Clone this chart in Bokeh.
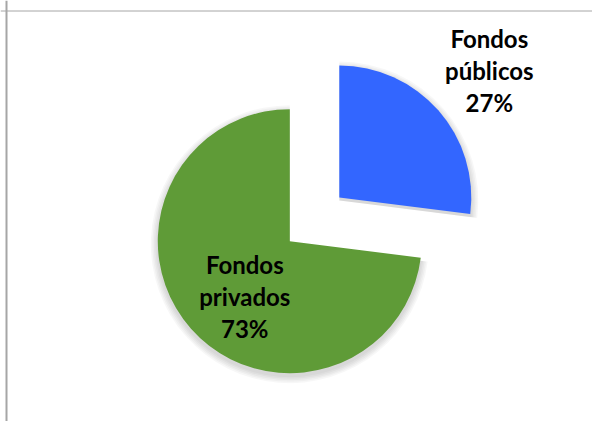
import math
from bokeh.plotting import figure
from bokeh.models import Range1d, Span, ColumnDataSource
from bokeh.core.properties import value
from bokeh.embed import file_html
from bokeh.resources import INLINE

# ---- data ----
categories = ["Fondos públicos", "Fondos privados"]
shares = [27, 73]
label_lines = ["Fondos\npúblicos\n27%", "Fondos\nprivados\n73%"]

# ---- style / layout ----
colors = ["#3366FF", "#5F9B37"]
explode = [66, 0]             # px pulled out along slice bisector
label_dx = [150, -45]         # label offsets from the slice's apex
label_dy = [127, -55]
W, H = 592, 421
cx, cy, R = 289.3, 180.3, 132

p = figure(width=W, height=H, output_backend="svg", toolbar_location=None,
           x_range=Range1d(0, W), y_range=Range1d(0, H), min_border=0,
           background_fill_color="white", border_fill_color="white")
p.axis.visible = False
p.grid.visible = False
p.outline_line_color = None

total = float(sum(shares))
start = math.pi / 2
rows = dict(x=[], y=[], start=[], end=[], color=[], lx=[], ly=[], text=[])
for i, v in enumerate(shares):
    sweep = 2 * math.pi * v / total
    end = start - sweep
    mid = start - sweep / 2
    x0 = cx + explode[i] * math.cos(mid)
    y0 = cy + explode[i] * math.sin(mid)
    rows["x"].append(x0)
    rows["y"].append(y0)
    rows["start"].append(start)
    rows["end"].append(end)
    rows["color"].append(colors[i])
    rows["lx"].append(x0 + label_dx[i])
    rows["ly"].append(y0 + label_dy[i])
    rows["text"].append(label_lines[i])
    start = end

src = ColumnDataSource(rows)

# soft shadow
sh = ColumnDataSource(dict(x=list(rows["x"]), y=[y - 3 for y in rows["y"]],
                           start=rows["start"], end=rows["end"]))
for k in range(5):
    p.wedge(x="x", y="y", radius=R + 1 + k * 1.5, start_angle="start", end_angle="end",
            direction="clock", source=sh, fill_color="black", fill_alpha=0.03,
            line_color=None)

p.wedge(x="x", y="y", radius=R, start_angle="start", end_angle="end",
        direction="clock", source=src, fill_color="color", line_color=None)

p.text(x="lx", y="ly", text="text", source=src, text_align="center",
       text_baseline="middle", text_font=value("Lato"), text_font_style="bold",
       text_font_size="24px", text_line_height=1.1, text_color="black")

# frame lines (left and top)
p.add_layout(Span(location=6, dimension="height", line_color="#A6A6A6", line_width=2))
p.add_layout(Span(location=H - 10.5, dimension="width", line_color="#A6A6A6", line_width=1))

open("out.html", "w").write(file_html(p, INLINE))
